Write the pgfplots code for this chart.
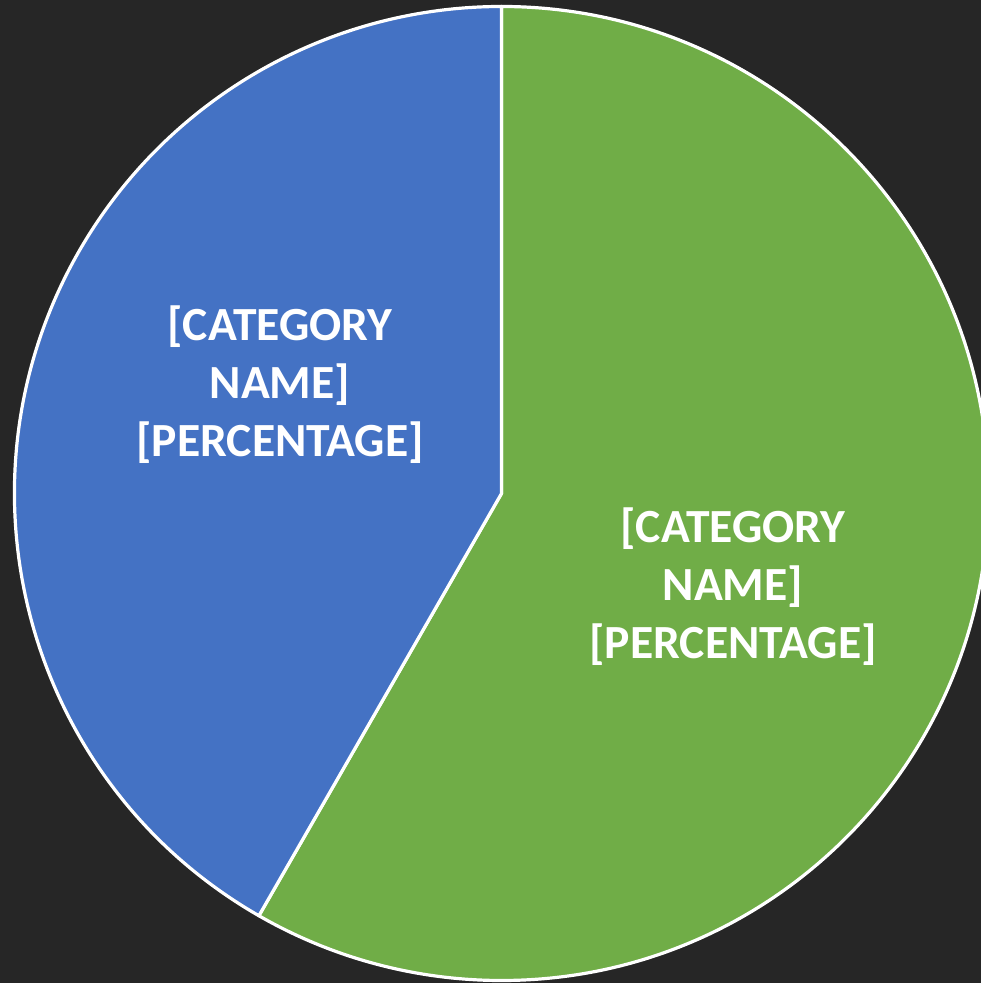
\documentclass[border=0pt]{standalone}
\usepackage{pgfplots}
\usepackage{pgfplotstable}
\usepackage{fontspec}
\setmainfont{Carlito}
\pgfplotsset{compat=1.18}

\definecolor{bgc}{HTML}{262626}
\definecolor{bluec}{HTML}{4472C4}
\definecolor{greenc}{HTML}{70AD47}

% share of each slice, in percent
\pgfplotstableread{
label value
green 58.3
blue  41.7
}\piedata

\begin{document}
\begin{tikzpicture}
\pgfplotstablegetelem{0}{value}\of\piedata
\pgfmathsetmacro\ga{90-3.6*\pgfplotsretval}
\pgfplotstablegetelem{1}{value}\of\piedata
\pgfmathsetmacro\gb{\ga-3.6*\pgfplotsretval}
\begin{axis}[name=ax, hide axis, x=0.25pt, y=0.25pt,
  xmin=0, xmax=981, ymin=0, ymax=983, clip=true]
  \fill[bgc] (axis cs:0,0) rectangle (axis cs:981,983);
  \filldraw[fill=greenc, draw=white, line width=0.8pt, line join=round]
    (axis cs:501.5,489.5) -- ++(0pt,121.75pt)
    arc[start angle=90, end angle=\ga, radius=121.75pt] -- cycle;
  \filldraw[fill=bluec, draw=white, line width=0.8pt, line join=round]
    (axis cs:501.5,489.5) -- ++(\ga:121.75pt)
    arc[start angle=\ga, end angle=\gb, radius=121.75pt] -- cycle;
  \node[align=center, text=white, font=\bfseries\fontsize{11.9}{14.5}\selectfont]
    at (axis cs:280,598) {[CATEGORY\\NAME]\\{}[PERCENTAGE]};
  \node[align=center, text=white, font=\bfseries\fontsize{11.9}{14.5}\selectfont]
    at (axis cs:733,396) {[CATEGORY\\NAME]\\{}[PERCENTAGE]};
\end{axis}
\pgfresetboundingbox
\path (ax.south west) rectangle (ax.north east);
\end{tikzpicture}
\end{document}
